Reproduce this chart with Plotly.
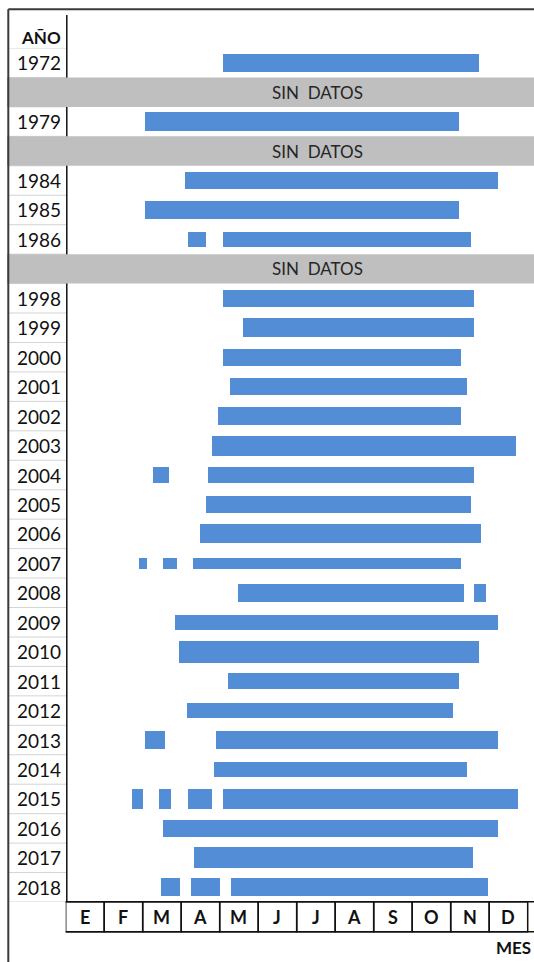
import plotly.graph_objects as go

# ---------------- data ----------------
rows = ["1972", "SIN DATOS", "1979", "SIN DATOS", "1984", "1985", "1986", "SIN DATOS",
        "1998", "1999", "2000", "2001", "2002", "2003", "2004", "2005", "2006", "2007",
        "2008", "2009", "2010", "2011", "2012", "2013", "2014", "2015", "2016", "2017", "2018"]
months = ["E", "F", "M", "A", "M", "J", "J", "A", "S", "O", "N", "D"]

# periods (month units, 0 = start of January)
seg_year = ["1972", "1979", "1984", "1985", "1986", "1986", "1998", "1999", "2000", "2001",
            "2002", "2003", "2004", "2004", "2005", "2006", "2007", "2007", "2007", "2008",
            "2008", "2009", "2010", "2011", "2012", "2013", "2013", "2014", "2015", "2015",
            "2015", "2015", "2016", "2017", "2018", "2018", "2018"]
seg_start = [4.09, 2.06, 3.08, 2.06, 3.18, 4.09, 4.09, 4.61, 4.09, 4.25,
             3.95, 3.79, 2.26, 3.69, 3.64, 3.49, 1.90, 2.52, 3.29, 4.46,
             10.61, 2.82, 2.93, 4.20, 3.13, 2.06, 3.90, 3.84, 1.71, 2.42,
             3.18, 4.09, 2.52, 3.33, 2.47, 3.24, 4.29]
seg_end = [10.72, 10.20, 11.22, 10.20, 3.64, 10.51, 10.61, 10.61, 10.25, 10.41,
           10.25, 11.69, 2.67, 10.61, 10.51, 10.77, 2.10, 2.87, 10.25, 10.35,
           10.92, 11.22, 10.72, 10.20, 10.05, 2.56, 11.22, 10.41, 2.01, 2.72,
           3.78, 11.73, 11.22, 10.56, 2.97, 3.99, 10.97]

# ---------------- style ----------------
bar_thickness = {"1972": 0.62, "1979": 0.65, "1984": 0.60, "1985": 0.59, "1986": 0.53,
                 "1998": 0.59, "1999": 0.65, "2000": 0.58, "2001": 0.59, "2002": 0.59,
                 "2003": 0.68, "2004": 0.51, "2005": 0.60, "2006": 0.65, "2007": 0.37,
                 "2008": 0.60, "2009": 0.51, "2010": 0.74, "2011": 0.53, "2012": 0.53,
                 "2013": 0.59, "2014": 0.50, "2015": 0.66, "2016": 0.59, "2017": 0.71,
                 "2018": 0.62}
W, H = 534, 962
BAR = "#538DD5"
GRAY = "#BFBFBF"
FONT = "Lato"

def px_x(p):
    return p / W

def px_y(p):
    return 1 - p / H

row_idx = {lab: i for i, lab in enumerate(rows) if lab != "SIN DATOS"}

fig = go.Figure()
fig.add_trace(go.Bar(
    orientation="h",
    y=[row_idx[y] for y in seg_year],
    x=[e - s for s, e in zip(seg_start, seg_end)],
    base=seg_start,
    width=[bar_thickness[y] for y in seg_year],
    marker=dict(color=BAR, line=dict(width=0)),
    hoverinfo="skip",
    showlegend=False,
))

x_left = 65.7
month_px = 38.5
x_max = (W - x_left) / month_px
top_px, bot_px = 48, 902

shapes = []
annotations = []

# year-column separators
for i in range(len(rows) + 1):
    shapes.append(dict(type="line", xref="paper", yref="y",
                       x0=px_x(8), x1=px_x(66.5), y0=i - 0.5, y1=i - 0.5,
                       line=dict(color="#D4D4D4", width=1), layer="below"))

# year column right line
shapes.append(dict(type="line", xref="paper", yref="paper",
                   x0=px_x(66.8), x1=px_x(66.8), y0=px_y(15), y1=px_y(bot_px),
                   line=dict(color="#111111", width=1.5)))

# gray "no data" bands
for i, lab in enumerate(rows):
    if lab == "SIN DATOS":
        shapes.append(dict(type="rect", xref="paper", yref="y",
                           x0=px_x(7), x1=1, y0=i - 0.5, y1=i + 0.5,
                           fillcolor=GRAY, line=dict(width=0), layer="above"))
        annotations.append(dict(text="SIN\u00a0\u00a0DATOS", xref="paper", yref="y",
                                x=px_x(317), y=i, xanchor="center", yanchor="middle",
                                showarrow=False,
                                font=dict(family=FONT, size=17, color="#262626")))
    else:
        annotations.append(dict(text=lab, xref="paper", yref="y",
                                x=px_x(63), y=i, xanchor="right", yanchor="middle",
                                showarrow=False,
                                font=dict(family=FONT, size=19, color="#111111")))

# month boxes
for m, lab in enumerate(months):
    shapes.append(dict(type="rect", xref="x", yref="paper",
                       x0=m, x1=m + 1, y0=px_y(931.7), y1=px_y(901.7),
                       line=dict(color="#111111", width=1.5)))
    annotations.append(dict(text="<b>%s</b>" % lab, xref="x", yref="paper",
                            x=m + 0.5, y=px_y(917), xanchor="center", yanchor="middle",
                            showarrow=False,
                            font=dict(family=FONT, size=18, color="#111111")))
for yy in (901.7, 931.7):
    shapes.append(dict(type="line", xref="paper", yref="paper",
                       x0=px_x(x_left), x1=1, y0=px_y(yy), y1=px_y(yy),
                       line=dict(color="#111111", width=1.5)))

# outer frame
shapes.append(dict(type="line", xref="paper", yref="paper",
                   x0=px_x(8.3), x1=1, y0=px_y(9.3), y1=px_y(9.3),
                   line=dict(color="#3A3A3A", width=2)))
shapes.append(dict(type="line", xref="paper", yref="paper",
                   x0=px_x(8.3), x1=px_x(8.3), y0=px_y(9.3), y1=0,
                   line=dict(color="#3A3A3A", width=2)))

annotations.append(dict(text="<b>AÑO</b>", xref="paper", yref="paper",
                        x=px_x(62.5), y=px_y(37.7), xanchor="right", yanchor="middle",
                        showarrow=False,
                        font=dict(family=FONT, size=17, color="#111111")))
annotations.append(dict(text="<b>MES</b>", xref="paper", yref="paper",
                        x=px_x(533), y=px_y(947), xanchor="right", yanchor="middle",
                        showarrow=False,
                        font=dict(family=FONT, size=17, color="#111111")))

fig.update_layout(
    width=W, height=H,
    margin=dict(l=0, r=0, t=0, b=0),
    paper_bgcolor="white", plot_bgcolor="white",
    bargap=0,
    xaxis=dict(domain=[px_x(x_left), 1], range=[0, x_max], visible=False, fixedrange=True),
    yaxis=dict(domain=[px_y(bot_px), px_y(top_px)], range=[len(rows) - 0.5, -0.5],
               visible=False, fixedrange=True),
    shapes=shapes,
    annotations=annotations,
)

fig.write_html("out.html", config={"displayModeBar": False},
               post_script="document.body.style.margin='0';document.body.style.overflow='hidden';")
